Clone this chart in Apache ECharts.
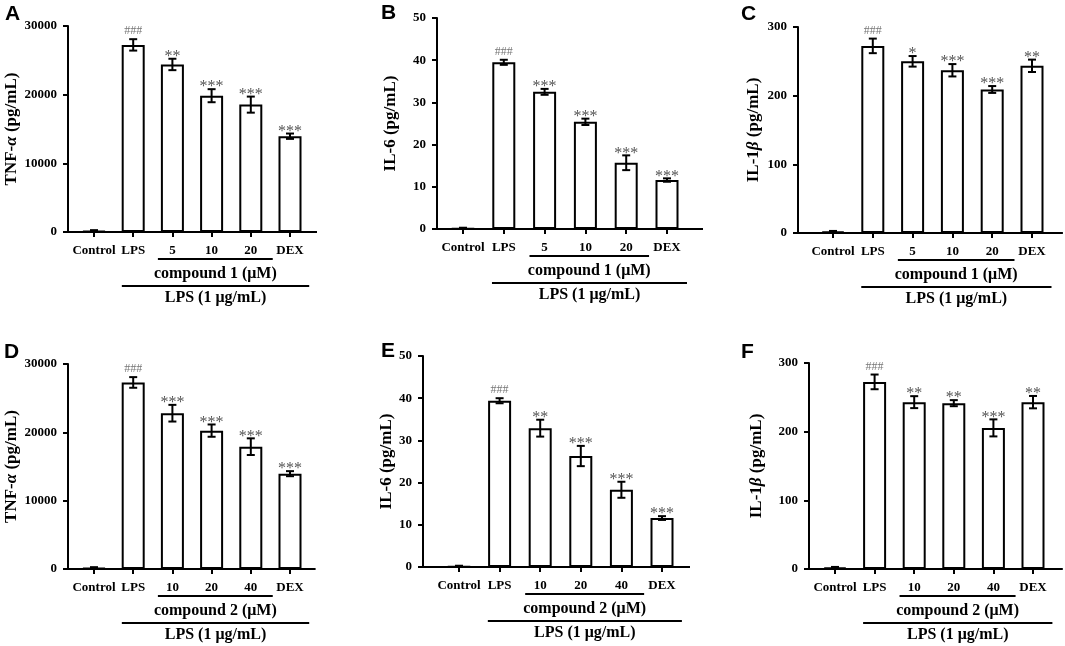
<!DOCTYPE html>
<html>
<head>
<meta charset="utf-8">
<script src="https://cdn.jsdelivr.net/npm/echarts@6/dist/echarts.min.js"></script>
<style>
html,body{margin:0;padding:0;background:#fff;}
#main{width:1065px;height:646px;}
</style>
</head>
<body>
<div id="main"></div>
<script>
// ---------- DATA ----------
const categories1 = ['Control', 'LPS', '5', '10', '20', 'DEX'];
const categories2 = ['Control', 'LPS', '10', '20', '40', 'DEX'];
const groupLabel1 = 'compound 1 (μM)';
const groupLabel2 = 'compound 2 (μM)';
const lpsLabel = 'LPS (1 μg/mL)';

const tnf1 = [120, 27250, 24400, 19850, 18550, 13950];
const tnf1Err = [150, 830, 830, 950, 1170, 390];
const tnf1Sig = ['', '###', '**', '***', '***', '***'];

const il6_1 = [0.1, 39.5, 32.5, 25.4, 15.7, 11.6];
const il6_1Err = [0.2, 0.6, 0.7, 0.75, 1.75, 0.4];
const il6_1Sig = ['', '###', '***', '***', '***', '***'];

const il1b_1 = [2, 272.5, 250, 237, 209, 243.5];
const il1b_1Err = [1, 10.6, 7.7, 9, 5, 9];
const il1b_1Sig = ['', '###', '*', '***', '***', '**'];

const tnf2 = [120, 27300, 22800, 20250, 17900, 13950];
const tnf2Err = [150, 780, 1220, 900, 1220, 370];
const tnf2Sig = ['', '###', '***', '***', '***', '***'];

const il6_2 = [0.1, 39.4, 32.9, 26.3, 18.3, 11.6];
const il6_2Err = [0.2, 0.6, 2.0, 2.4, 1.9, 0.45];
const il6_2Sig = ['', '###', '**', '***', '***', '***'];

const il1b_2 = [2, 272.5, 243, 241.5, 205.5, 243];
const il1b_2Err = [1, 10.7, 8.7, 4.4, 12.4, 9];
const il1b_2Sig = ['', '###', '**', '**', '***', '**'];

const tnfName = 'TNF-{i|α} (pg/mL)';
const il6Name = 'IL-6 (pg/mL)';
const il1bName = 'IL-1{i|β} (pg/mL)';

// ---------- LAYOUT ----------
const panels = [
  {letter:'A', lx:5, ly:4, cats:categories1, group:groupLabel1, vals:tnf1, errs:tnf1Err, sig:tnf1Sig, max:30000, interval:10000, name:tnfName,
   grid:{left:74.4, top:26, width:235.2, height:206}, yOffset:6.4, extraRight:7.4, nameGap:47},
  {letter:'B', lx:381, ly:3, cats:categories1, group:groupLabel1, vals:il6_1, errs:il6_1Err, sig:il6_1Sig, max:50, interval:10, name:il6Name,
   grid:{left:442.6, top:18, width:244.8, height:211}, yOffset:5.6, extraRight:15.6, nameGap:38},
  {letter:'C', lx:741, ly:4, cats:categories1, group:groupLabel1, vals:il1b_1, errs:il1b_1Err, sig:il1b_1Sig, max:300, interval:100, name:il1bName,
   grid:{left:813.1, top:27, width:238.8, height:206}, yOffset:15.1, extraRight:11, nameGap:36},
  {letter:'D', lx:4, ly:342, cats:categories2, group:groupLabel2, vals:tnf2, errs:tnf2Err, sig:tnf2Sig, max:30000, interval:10000, name:tnfName,
   grid:{left:74.4, top:364, width:235.2, height:205}, yOffset:6.4, extraRight:6, nameGap:47},
  {letter:'E', lx:381, ly:341, cats:categories2, group:groupLabel2, vals:il6_2, errs:il6_2Err, sig:il6_2Sig, max:50, interval:10, name:il6Name,
   grid:{left:438.7, top:356, width:243.6, height:211}, yOffset:15.7, extraRight:7.7, nameGap:28},
  {letter:'F', lx:741, ly:342, cats:categories2, group:groupLabel2, vals:il1b_2, errs:il1b_2Err, sig:il1b_2Sig, max:300, interval:100, name:il1bName,
   grid:{left:815.2, top:363, width:237.6, height:206}, yOffset:6.2, extraRight:10, nameGap:44}
];

const SERIF = '"Liberation Serif", "Times New Roman", serif';
const SANS = '"Liberation Sans", Arial, sans-serif';

const option = {
  backgroundColor:'#fff',
  animation:false,
  title:[], grid:[], xAxis:[], yAxis:[], series:[]
};

panels.forEach((p, k) => {
  option.title.push({
    text:p.letter, left:p.lx, top:p.ly, padding:0,
    textStyle:{fontFamily:SANS, fontWeight:'bold', fontSize:21, color:'#000'}
  });
  option.grid.push(Object.assign({containLabel:false}, p.grid));
  option.xAxis.push({
    type:'category', gridIndex:k, data:p.cats,
    axisLine:{show:false},
    axisTick:{show:true, alignWithLabel:true, length:5, lineStyle:{color:'#000', width:2}},
    axisLabel:{margin:12, interval:0, color:'#000', fontFamily:SERIF, fontWeight:'bold', fontSize:13},
    splitLine:{show:false}
  });
  option.yAxis.push({
    type:'value', gridIndex:k, min:0, max:p.max, interval:p.interval, offset:p.yOffset,
    axisLine:{show:true, lineStyle:{color:'#000', width:2}},
    axisTick:{show:true, length:5, lineStyle:{color:'#000', width:2}},
    axisLabel:{margin:11, color:'#000', fontFamily:SERIF, fontWeight:'bold', fontSize:13,
      formatter:function(v){ return String(v); }},
    splitLine:{show:false},
    name:p.name, nameLocation:'middle', nameRotate:90, nameGap:p.nameGap,
    nameTextStyle:{color:'#000', fontFamily:SERIF, fontWeight:'bold', fontSize:17,
      rich:{i:{fontFamily:SERIF, fontWeight:'bold', fontStyle:'italic', fontSize:17, color:'#000'}}}
  });
  // bars
  option.series.push({
    type:'bar', xAxisIndex:k, yAxisIndex:k, data:p.vals, barWidth:23,
    itemStyle:{color:'#fff', borderColor:'#000', borderWidth:2},
    z:2
  });
  // error bars + significance marks
  const sig = p.sig;
  option.series.push({
    type:'custom', xAxisIndex:k, yAxisIndex:k, clip:false, z:4,
    data:p.vals.map((v, i) => [i, v, p.errs[i]]),
    renderItem:function(params, api){
      const i = api.value(0), v = api.value(1), e = api.value(2);
      const top = api.coord([i, v + e]);
      const bot = api.coord([i, Math.max(v - e, 0)]);
      const x = top[0];
      const cap = 4;
      const ls = {stroke:'#000', lineWidth:2};
      const children = [
        {type:'line', shape:{x1:x, y1:top[1], x2:x, y2:bot[1]}, style:ls},
        {type:'line', shape:{x1:x-cap, y1:top[1], x2:x+cap, y2:top[1]}, style:ls},
        {type:'line', shape:{x1:x-cap, y1:bot[1], x2:x+cap, y2:bot[1]}, style:ls}
      ];
      const s = sig[params.dataIndex];
      if (s) {
        const isHash = s.charAt(0) === '#';
        children.push({
          type:'text', x:x, y: isHash ? top[1] - 2 : top[1] + 6,
          style:{text:s, fill: isHash ? '#777' : '#555',
            font: isHash ? '12px ' + SERIF : '16px ' + SERIF,
            align:'center', verticalAlign:'bottom'}
        });
      }
      return {type:'group', children:children};
    }
  });
  // baseline + group annotations
  const group = p.group, yOff = p.yOffset, extraR = p.extraRight;
  option.series.push({
    type:'custom', xAxisIndex:k, yAxisIndex:k, clip:false, z:3,
    data:[[0, 0]],
    renderItem:function(params, api){
      const cs = params.coordSys;
      const y0 = cs.y + cs.height;
      const band = cs.width / 6;
      const c = i => api.coord([i, 0])[0];
      const ls = {stroke:'#000', lineWidth:2};
      const gx1 = c(2) - 0.37 * band, gx2 = c(4) + 0.56 * band;
      const lx1 = c(1) - 0.29 * band, lx2 = c(5) + 0.49 * band;
      return {type:'group', children:[
        {type:'line', shape:{x1:cs.x - yOff - 1, y1:y0, x2:cs.x + cs.width + extraR, y2:y0}, style:ls},
        {type:'line', shape:{x1:gx1, y1:y0 + 27, x2:gx2, y2:y0 + 27}, style:ls},
        {type:'text', x:(gx1 + gx2) / 2, y:y0 + 42,
          style:{text:group, fill:'#000', font:'bold 16px ' + SERIF, align:'center', verticalAlign:'middle'}},
        {type:'line', shape:{x1:lx1, y1:y0 + 54, x2:lx2, y2:y0 + 54}, style:ls},
        {type:'text', x:(lx1 + lx2) / 2, y:y0 + 66,
          style:{text:lpsLabel, fill:'#000', font:'bold 16px ' + SERIF, align:'center', verticalAlign:'middle'}}
      ]};
    }
  });
});

const chart = echarts.init(document.getElementById('main'), null, {renderer:'canvas'});
chart.setOption(option);
</script>
</body>
</html>
